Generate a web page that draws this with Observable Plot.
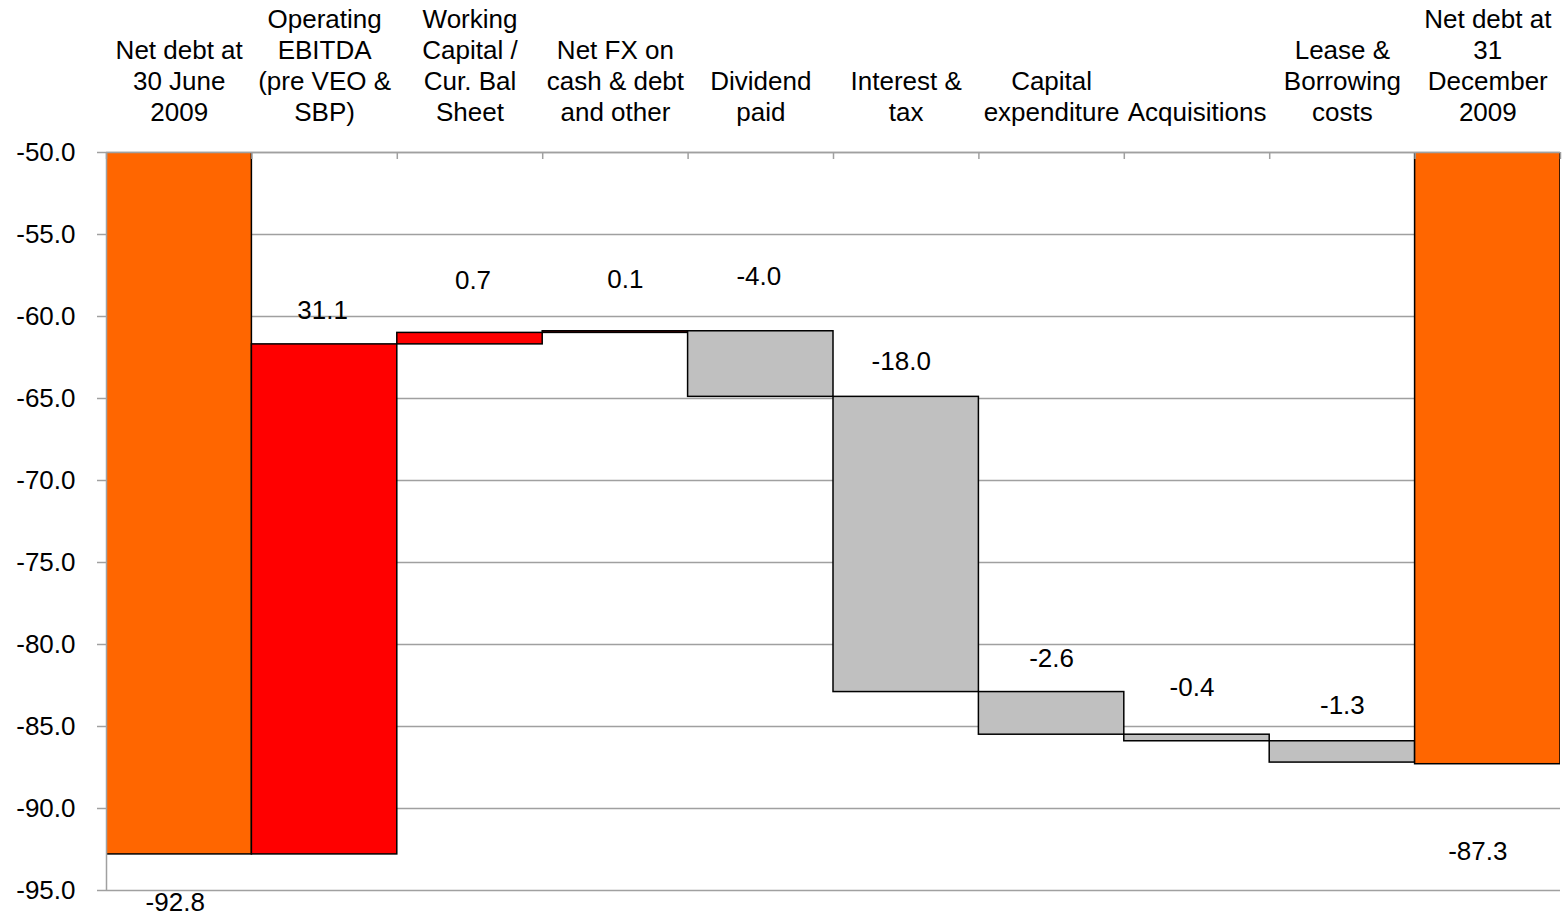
<!DOCTYPE html>
<html>
<head>
<meta charset="utf-8">
<script src="https://cdn.jsdelivr.net/npm/d3@7"></script>
<script src="https://cdn.jsdelivr.net/npm/@observablehq/plot@0.6"></script>
<style>
  html, body { margin: 0; padding: 0; background: #fff; }
  svg { display: block; }
</style>
</head>
<body>
<div id="chart"></div>
<script>
// Net debt bridge, 30 June 2009 -> 31 December 2009
const categories = [
  "Net debt at\n30 June\n2009",
  "Operating\nEBITDA\n(pre VEO &\nSBP)",
  "Working\nCapital /\nCur. Bal\nSheet",
  "Net FX on\ncash & debt\nand other",
  "Dividend\npaid",
  "Interest &\ntax",
  "Capital\nexpenditure",
  "Acquisitions",
  "Lease &\nBorrowing\ncosts",
  "Net debt at\n31\nDecember\n2009"
];
const values = [-92.8, 31.1, 0.7, 0.1, -4.0, -18.0, -2.6, -0.4, -1.3, -87.3];
const kinds = ["total", "step", "step", "step", "step", "step", "step", "step", "step", "total"];
const yTicks = [-95, -90, -85, -80, -75, -70, -65, -60, -55, -50];

// Label offsets (px) from each bar's upper edge (steps) or lower edge (totals)
const labelDx = [-4, -2, 3, 10, -2, -5, 0, -5, 0, -10];
const labelDy = [48, -34, -52, -52, -55, -35, -33, -47, -36, 87];

const ORANGE = "#FF6600", RED = "#FF0000", GREY = "#C0C0C0", AXIS = "#a0a0a0";
const FONT = 26;

// Running total for the floating bars
let running = 0;
const rows = categories.map((c, i) => {
  const v = values[i];
  let y1, y2, edge;
  if (kinds[i] === "total") {
    y1 = v; y2 = 0; edge = v;
    running = v;
  } else {
    y1 = running; y2 = running + v;
    edge = Math.max(y1, y2);
    running = y2;
  }
  const fill = kinds[i] === "total" ? ORANGE : v >= 0 ? RED : GREY;
  return {i, category: c, value: v, y1, y2, edge, fill, label: v.toFixed(1), dx: labelDx[i], dy: labelDy[i]};
});

const chart = Plot.plot({
  width: 1564,
  height: 916,
  marginLeft: 106,
  marginRight: 4,
  marginTop: 152,
  marginBottom: 26,
  x: {domain: [0, categories.length], axis: null},
  y: {domain: [-95, -50], axis: null},
  color: {type: "identity"},
  style: {
    fontFamily: "'Liberation Sans', Arial, sans-serif",
    fontSize: FONT + "px",
    color: "#000",
    background: "#fff",
    overflow: "visible"
  },
  marks: [
    Plot.gridY(yTicks, {stroke: AXIS, strokeOpacity: 1, strokeWidth: 1.5}),
    Plot.rectY(rows, {
      x1: "i",
      x2: d => d.i + 1,
      y1: "y1",
      y2: "y2",
      fill: "fill",
      stroke: "#000",
      strokeWidth: 1.5,
      clip: true
    }),
    // category axis along the top edge, with ticks at the column boundaries
    Plot.ruleY([-50], {stroke: AXIS, strokeWidth: 1.5}),
    Plot.ruleX(d3.range(categories.length + 1), {y1: -50, y2: -50, insetBottom: -7, stroke: AXIS, strokeWidth: 1.5}),
    Plot.ruleX([0], {stroke: AXIS, strokeWidth: 1.5}),
    Plot.axisY(yTicks, {
      tickSize: 9,
      tickPadding: 22,
      stroke: AXIS,
      strokeWidth: 1.5,
      fill: "#000",
      fontSize: FONT,
      tickFormat: d => d.toFixed(1)
    }),
    Plot.text(rows, {
      x: d => d.i + 0.5,
      y: -50,
      text: "category",
      lineAnchor: "bottom",
      lineHeight: 1.18,
      dy: -32,
      fill: "#000",
      fontSize: FONT
    }),
    Plot.text(rows, {
      x: d => d.i + 0.5,
      y: "edge",
      text: "label",
      fill: "#000",
      fontSize: FONT,
      render(index, scales, values, dims, context, next) {
        const g = next(index, scales, values, dims, context);
        d3.select(g).selectAll("text").each(function (_, k) {
          const r = rows[index[k]];
          const t = d3.select(this);
          const tr = t.attr("transform") || "";
          t.attr("transform", `${tr} translate(${r.dx},${r.dy})`);
        });
        return g;
      }
    })
  ]
});

document.getElementById("chart").append(chart);
</script>
</body>
</html>
